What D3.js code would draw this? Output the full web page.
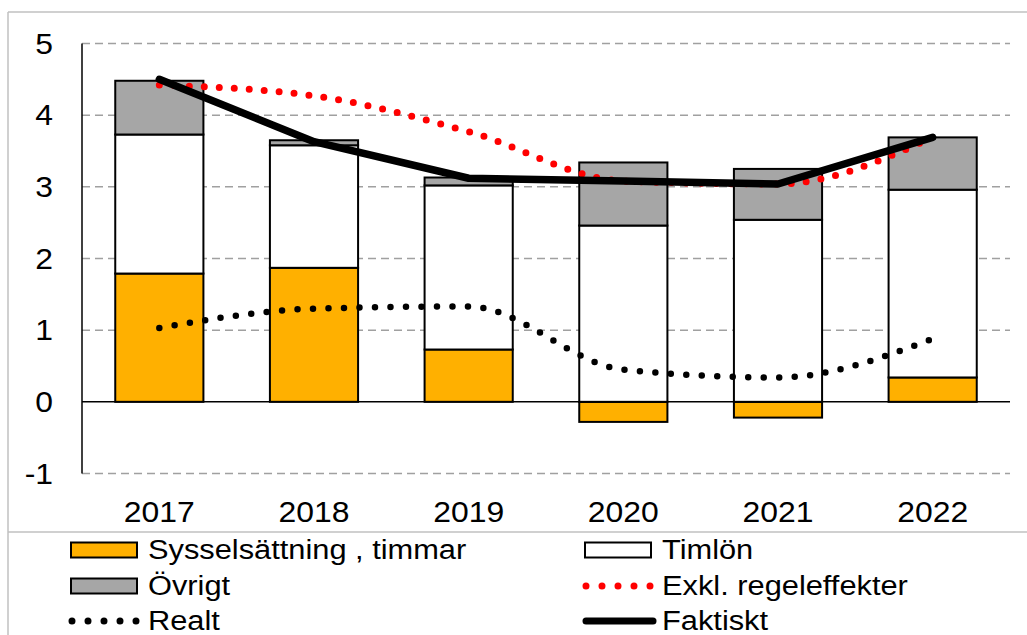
<!DOCTYPE html>
<html>
<head>
<meta charset="utf-8">
<script src="https://cdn.jsdelivr.net/npm/d3@7"></script>
<style>
  body { margin: 0; background: #fff; }
  text { font-family: "Liberation Sans", Arial, sans-serif; fill: #000; }
</style>
</head>
<body>
<script>
// data
var years = ["2017", "2018", "2019", "2020", "2021", "2022"];
var syssel = [1.79, 1.87, 0.73, -0.28, -0.22, 0.34];   // Sysselsättning , timmar
var timlon = [1.94, 1.71, 2.29, 2.46, 2.54, 2.62];     // Timlön
var ovrigt = [0.75, 0.07, 0.11, 0.88, 0.71, 0.73];     // Övrigt
var exkl = [4.42, 4.27, 3.77, 3.08, 3.04, 3.69];       // Exkl. regeleffekter
var faktiskt = [4.50, 3.63, 3.12, 3.08, 3.04, 3.69];   // Faktiskt
var realt = [1.03, 1.30, 1.33, 0.45, 0.34, 0.88];      // Realt
var yTicks = [-1, 0, 1, 2, 3, 4, 5];

var W = 1027, H = 635;
var stretch = 1.1; // the picture's text is a little wider than Liberation Sans

var svg = d3.select("body").append("svg")
	.attr("width", W)
	.attr("height", H);

// outer frame
var frame = "#c0c0c0";
svg.append("line").attr("x1", 8).attr("x2", W).attr("y1", 12).attr("y2", 12)
	.attr("stroke", frame).attr("stroke-width", 1.5);
svg.append("line").attr("x1", 8).attr("x2", 8).attr("y1", 12).attr("y2", H)
	.attr("stroke", frame).attr("stroke-width", 1.5);
svg.append("line").attr("x1", 8).attr("x2", W).attr("y1", 532).attr("y2", 532)
	.attr("stroke", frame).attr("stroke-width", 1.5);

var x = d3.scaleBand().domain(years).range([82, 1010])
	.paddingInner(0.43).paddingOuter(0.215);
var y = d3.scaleLinear().domain([-1, 5]).range([473.5, 43.5]);

// gridlines
svg.append("g").selectAll("line")
	.data(yTicks.filter(function(d) { return d !== 0; }))
	.enter().append("line")
		.attr("x1", 82).attr("x2", 1010)
		.attr("y1", function(d) { return y(d); })
		.attr("y2", function(d) { return y(d); })
		.attr("stroke", "#a0a0a0")
		.attr("stroke-width", 1.5)
		.attr("stroke-dasharray", "8,5");

// stacked bars
var stacks = years.map(function(yr, i) {
	var s = syssel[i], t = timlon[i], o = ovrigt[i];
	var base = Math.max(s, 0);
	return [
		{ y0: Math.min(s, 0), y1: Math.max(s, 0), fill: "#ffb000", year: yr },
		{ y0: base, y1: base + t, fill: "#ffffff", year: yr },
		{ y0: base + t, y1: base + t + o, fill: "#a6a6a6", year: yr }
	];
});
var flat = [].concat.apply([], stacks);
svg.append("g").selectAll("rect")
	.data(flat)
	.enter().append("rect")
		.attr("x", function(d) { return x(d.year); })
		.attr("width", x.bandwidth())
		.attr("y", function(d) { return y(d.y1); })
		.attr("height", function(d) { return y(d.y0) - y(d.y1); })
		.attr("fill", function(d) { return d.fill; })
		.attr("stroke", "#000")
		.attr("stroke-width", 2);

// zero line and y axis line
svg.append("line").attr("x1", 82).attr("x2", 1010)
	.attr("y1", y(0)).attr("y2", y(0))
	.attr("stroke", "#000").attr("stroke-width", 1.5);
svg.append("line").attr("x1", 82).attr("x2", 82)
	.attr("y1", y(5)).attr("y2", y(-1))
	.attr("stroke", "#000").attr("stroke-width", 1.5);

// y tick labels
svg.append("g").selectAll("text")
	.data(yTicks)
	.enter().append("text")
		.attr("transform", function(d) {
			return "translate(53," + (y(d) + 10) + ") scale(" + stretch + ",1)";
		})
		.attr("text-anchor", "end")
		.style("font-size", "29px")
		.text(function(d) { return d; });

// x labels
svg.append("g").selectAll("text")
	.data(years)
	.enter().append("text")
		.attr("transform", function(d) {
			return "translate(" + (x(d) + x.bandwidth() / 2) + ",522) scale(" + stretch + ",1)";
		})
		.attr("text-anchor", "middle")
		.style("font-size", "29px")
		.text(function(d) { return d; });

var cx = function(d, i) { return x(years[i]) + x.bandwidth() / 2; };

var smooth = d3.line().x(cx).y(function(d) { return y(d); }).curve(d3.curveMonotoneX);
var straight = d3.line().x(cx).y(function(d) { return y(d); });

svg.append("path").datum(realt)
	.attr("d", smooth)
	.attr("fill", "none")
	.attr("stroke", "#000")
	.attr("stroke-width", 6.5)
	.attr("stroke-linecap", "round")
	.attr("stroke-dasharray", "0,15.5");

svg.append("path").datum(exkl)
	.attr("d", smooth)
	.attr("fill", "none")
	.attr("stroke", "#ff0000")
	.attr("stroke-width", 7)
	.attr("stroke-linecap", "round")
	.attr("stroke-dasharray", "0,15");

svg.append("path").datum(faktiskt)
	.attr("d", straight)
	.attr("fill", "none")
	.attr("stroke", "#000")
	.attr("stroke-width", 7.5)
	.attr("stroke-linecap", "round")
	.attr("stroke-linejoin", "round");

// legend
var legend = [
	{ label: "Sysselsättning , timmar", type: "rect", fill: "#ffb000", col: 0, row: 0 },
	{ label: "Övrigt", type: "rect", fill: "#a6a6a6", col: 0, row: 1 },
	{ label: "Realt", type: "dots", color: "#000", col: 0, row: 2 },
	{ label: "Timlön", type: "rect", fill: "#ffffff", col: 1, row: 0 },
	{ label: "Exkl. regeleffekter", type: "dots", color: "#ff0000", col: 1, row: 1 },
	{ label: "Faktiskt", type: "line", color: "#000", col: 1, row: 2 }
];
var colX = [71, 585];
var rowY = [550, 586, 621];

var lg = svg.append("g").selectAll("g")
	.data(legend)
	.enter().append("g")
		.attr("transform", function(d) {
			return "translate(" + colX[d.col] + "," + rowY[d.row] + ")";
		});

lg.filter(function(d) { return d.type === "rect"; }).append("rect")
	.attr("x", 0).attr("y", -7.5)
	.attr("width", 66).attr("height", 15)
	.attr("fill", function(d) { return d.fill; })
	.attr("stroke", "#000").attr("stroke-width", 2);

lg.filter(function(d) { return d.type === "dots"; }).append("line")
	.attr("x1", 1).attr("x2", 66)
	.attr("stroke", function(d) { return d.color; })
	.attr("stroke-width", 7)
	.attr("stroke-linecap", "round")
	.attr("stroke-dasharray", "0,16");

lg.filter(function(d) { return d.type === "line"; }).append("line")
	.attr("x1", 1).attr("x2", 68)
	.attr("stroke", "#000")
	.attr("stroke-width", 7)
	.attr("stroke-linecap", "round");

lg.append("text")
	.attr("transform", "translate(77,9) scale(" + stretch + ",1)")
	.style("font-size", "28px")
	.text(function(d) { return d.label; });
</script>
</body>
</html>
